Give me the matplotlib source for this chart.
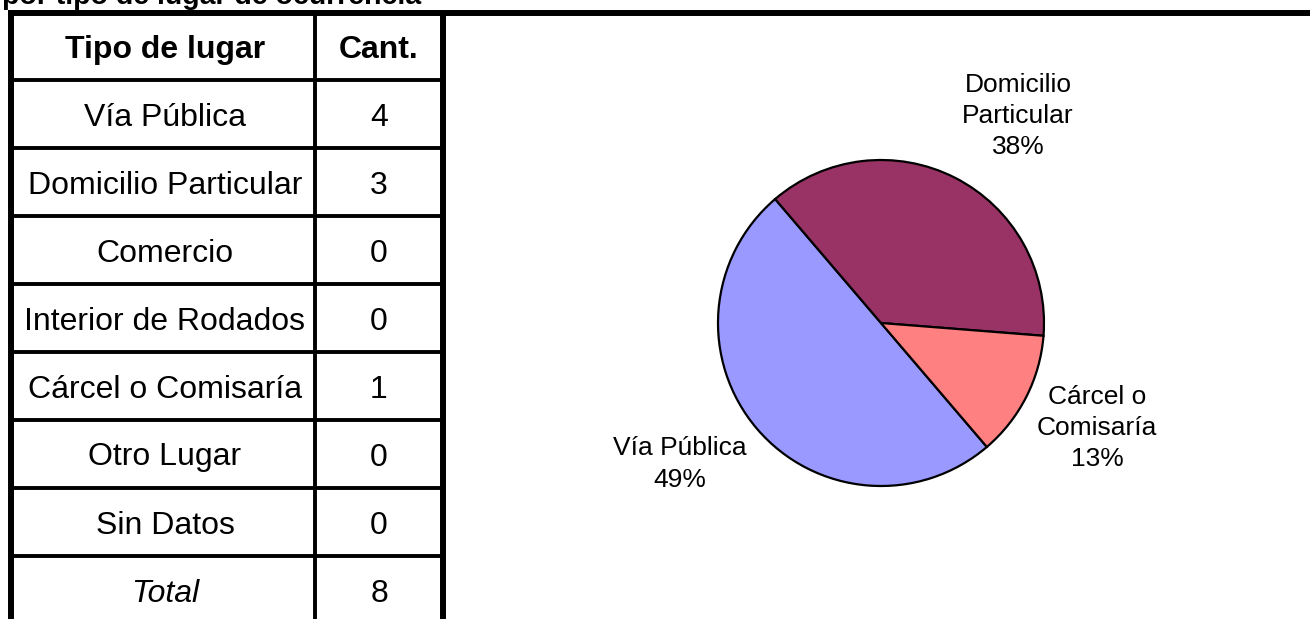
import matplotlib.pyplot as plt
import numpy as np

plt.rcParams['font.family'] = ['Liberation Sans', 'DejaVu Sans']

# table data
tipos = ["Vía Pública", "Domicilio Particular", "Comercio", "Interior de Rodados",
         "Cárcel o Comisaría", "Otro Lugar", "Sin Datos"]
cantidades = [4, 3, 0, 0, 1, 0, 0]
total = sum(cantidades)

# pie data (only non-zero categories)
pie_labels = ["Vía Pública", "Domicilio\nParticular", "Cárcel o\nComisaría"]
pie_values = [4, 3, 1]
pie_pct = [49, 38, 13]
pie_colors = ["#9999FF", "#993366", "#FF8080"]

W, H = 1310, 619
fig = plt.figure(figsize=(W / 100, H / 100), dpi=100)
ax0 = fig.add_axes([0, 0, 1, 1])
ax0.set_xlim(0, W)
ax0.set_ylim(H, 0)
ax0.axis('off')

# title (cut off at the top, as in the source)
ax0.text(2, 4, "por tipo de lugar de ocurrencia", fontsize=20.5, fontweight='bold',
         ha='left', va='baseline')

# table grid
top = 13
row_h = 68
header_h = 67
x_left, x_mid, x_right = 11, 315, 443
thick, thin = 4.3, 2.8

ax0.plot([8, W], [top, top], color='black', lw=thick, solid_capstyle='butt')
ax0.plot([x_left, x_left], [top - 3, H], color='black', lw=thick, solid_capstyle='butt')
ax0.plot([x_right, x_right], [top, H], color='black', lw=thick, solid_capstyle='butt')
ax0.plot([x_mid, x_mid], [top, H], color='black', lw=thin, solid_capstyle='butt')

row_edges = [top + header_h + i * row_h for i in range(len(tipos) + 1)]
for y in row_edges:
    ax0.plot([x_left, x_right], [y, y], color='black', lw=thin, solid_capstyle='butt')

c1 = (x_left + x_mid) / 2 + 2
c2 = (x_mid + x_right) / 2
fs = 23
yh = top + header_h / 2
ax0.text(c1, yh, "Tipo de lugar", fontsize=fs, fontweight='bold', ha='center', va='center_baseline')
ax0.text(c2, yh, "Cant.", fontsize=fs, fontweight='bold', ha='center', va='center_baseline')

for i, (t, c) in enumerate(zip(tipos, cantidades)):
    yc = row_edges[i] + row_h / 2
    ax0.text(c1, yc, t, fontsize=fs, ha='center', va='center_baseline')
    ax0.text(c2, yc, str(c), fontsize=fs, ha='center', va='center_baseline')

yc = row_edges[-1] + row_h / 2
ax0.text(c1, yc, "Total", fontsize=fs, style='italic', ha='center', va='center_baseline')
ax0.text(c2, yc, str(total), fontsize=fs, ha='center', va='center_baseline')

# pie chart
cx, cy, r = 881, 323, 163
pad = 1.05
ra = r * pad
ax1 = fig.add_axes([(cx - ra) / W, 1 - (cy + ra) / H, 2 * ra / W, 2 * ra / H])
ax1.pie(pie_values, colors=pie_colors, startangle=-49.5, counterclock=False,
        wedgeprops=dict(edgecolor='black', linewidth=1.6))
ax1.set_xlim(-pad, pad)
ax1.set_ylim(-pad, pad)
ax1.axis('off')

label_pos = [(680, 464), (1018, 116), (1097, 428)]
for lab, p, (lx, ly) in zip(pie_labels, pie_pct, label_pos):
    ax0.text(lx, ly, f"{lab}\n{p}%", fontsize=19, ha='center', va='center',
             multialignment='center', linespacing=1.37)

fig.savefig("out.png", dpi=100)
